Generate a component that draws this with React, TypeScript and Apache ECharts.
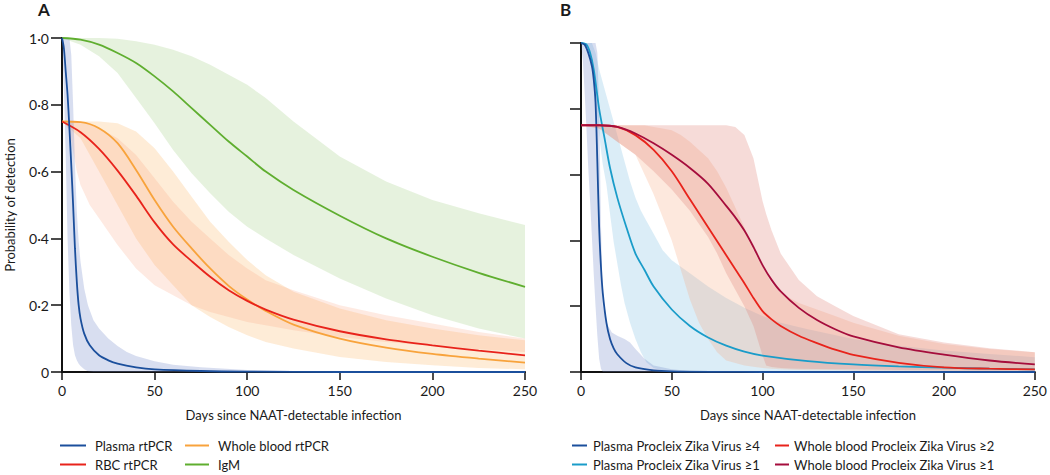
import React, { useEffect, useRef } from "react";
import * as echarts from "echarts";

// ---------- Panel A data ----------
const xTicks = [0, 50, 100, 150, 200, 250];

const plasmaRtDays = [0, 1, 2, 3, 4, 5, 6, 7, 8, 9, 10, 12, 15, 20, 25, 30, 40, 50, 75, 100, 150, 250];
const plasmaRt = [1, 0.97, 0.9, 0.83, 0.73, 0.62, 0.5, 0.37, 0.27, 0.2, 0.16, 0.115, 0.08, 0.05, 0.035, 0.025, 0.014, 0.008, 0.003, 0.001, 0, 0];
const plasmaRtBandDays = [0, 1, 2, 3, 4, 5, 6, 7, 8, 9, 10, 12, 14, 17, 20, 25, 30, 35, 40, 50, 60, 75, 100, 125, 150, 200, 250];
const plasmaRtUpper = [1, 1, 1, 1, 1, 0.95, 0.8, 0.62, 0.48, 0.39, 0.33, 0.25, 0.2, 0.155, 0.13, 0.1, 0.078, 0.06, 0.048, 0.032, 0.022, 0.014, 0.006, 0.003, 0.001, 0, 0];
const plasmaRtLower = [1, 0.85, 0.65, 0.4, 0.24, 0.14, 0.08, 0.05, 0.035, 0.025, 0.018, 0.008, 0.002, 0, 0, 0, 0, 0, 0, 0, 0, 0, 0, 0, 0, 0, 0];

const igmDays = [0, 10, 20, 30, 40, 50, 60, 70, 80, 90, 100, 110, 125, 150, 175, 200, 225, 250];
const igm = [1, 0.995, 0.98, 0.955, 0.925, 0.885, 0.84, 0.79, 0.74, 0.69, 0.645, 0.6, 0.545, 0.468, 0.4, 0.345, 0.297, 0.255];
const igmUpper = [1, 1, 1, 0.998, 0.99, 0.98, 0.965, 0.945, 0.92, 0.89, 0.86, 0.82, 0.75, 0.645, 0.57, 0.515, 0.475, 0.44];
const igmLower = [1, 0.98, 0.945, 0.895, 0.82, 0.745, 0.665, 0.595, 0.535, 0.48, 0.435, 0.4, 0.35, 0.28, 0.22, 0.17, 0.13, 0.1];

const wholeBloodDays = [0, 10, 20, 30, 40, 50, 60, 70, 80, 90, 100, 110, 125, 150, 175, 200, 225, 250];
const wholeBlood = [0.75, 0.748, 0.73, 0.685, 0.605, 0.515, 0.435, 0.37, 0.31, 0.258, 0.217, 0.183, 0.142, 0.1, 0.073, 0.054, 0.04, 0.028];
const wholeBloodUpper = [0.75, 0.75, 0.75, 0.745, 0.72, 0.67, 0.6, 0.525, 0.45, 0.39, 0.335, 0.29, 0.24, 0.19, 0.155, 0.13, 0.11, 0.095];
const wholeBloodLower = [0.75, 0.7, 0.6, 0.5, 0.4, 0.32, 0.26, 0.2, 0.165, 0.135, 0.11, 0.09, 0.07, 0.045, 0.03, 0.02, 0.012, 0.008];

const rbcDays = [0, 10, 20, 30, 40, 50, 60, 70, 80, 90, 100, 110, 125, 150, 175, 200, 225, 250];
const rbc = [0.75, 0.718, 0.668, 0.603, 0.528, 0.448, 0.382, 0.332, 0.285, 0.245, 0.213, 0.187, 0.157, 0.122, 0.098, 0.08, 0.064, 0.05];
const rbcBandDays = [0, 2, 4, 6, 8, 10, 15, 20, 30, 40, 50, 60, 70, 80, 90, 100, 110, 125, 150, 175, 200, 225, 250];
const rbcUpper = [0.75, 0.75, 0.75, 0.75, 0.75, 0.745, 0.74, 0.73, 0.7, 0.65, 0.58, 0.51, 0.45, 0.4, 0.35, 0.31, 0.275, 0.245, 0.2, 0.17, 0.145, 0.12, 0.1];
const rbcLower = [0.75, 0.74, 0.72, 0.66, 0.6, 0.56, 0.5, 0.46, 0.38, 0.31, 0.26, 0.23, 0.2, 0.18, 0.165, 0.15, 0.14, 0.125, 0.105, 0.09, 0.078, 0.068, 0.06];

// ---------- Panel B data ----------
const zika4Days = [0, 2, 4, 6, 7, 8, 9, 10, 11, 12, 14, 16, 18, 20, 25, 30, 40, 50, 75, 100, 250];
const zika4 = [1, 0.995, 0.97, 0.93, 0.89, 0.82, 0.64, 0.44, 0.32, 0.24, 0.15, 0.1, 0.072, 0.054, 0.027, 0.014, 0.005, 0.002, 0.0005, 0, 0];
const zika4BandDays = [0, 1, 2, 3, 4, 5, 6, 7, 8, 9, 10, 11, 12, 14, 17, 20, 24, 27, 30, 35, 40, 50, 60, 80, 100, 250];
const zika4Upper = [1, 1, 1, 1, 1, 1, 1, 1, 1, 0.97, 0.8, 0.45, 0.2, 0.15, 0.12, 0.11, 0.1, 0.09, 0.07, 0.04, 0.02, 0.008, 0.003, 0, 0, 0];
const zika4Lower = [1, 0.95, 0.85, 0.74, 0.62, 0.52, 0.41, 0.3, 0.2, 0.11, 0.04, 0.01, 0, 0, 0, 0, 0, 0, 0, 0, 0, 0, 0, 0, 0, 0];

const zika1Days = [0, 3, 5, 7, 10, 13, 16, 20, 25, 30, 35, 40, 50, 60, 70, 80, 90, 100, 125, 150, 175, 200, 225, 250];
const zika1 = [1, 0.995, 0.97, 0.92, 0.8, 0.71, 0.62, 0.53, 0.44, 0.36, 0.31, 0.26, 0.19, 0.14, 0.105, 0.08, 0.062, 0.05, 0.033, 0.023, 0.017, 0.013, 0.01, 0.008];
const zika1BandDays = [0, 4, 6, 8, 10, 12, 14, 16, 18, 20, 22, 24, 27, 30, 33, 36, 40, 45, 50, 60, 70, 80, 90, 100, 110, 125, 150, 175, 200, 225, 250];
const zika1Upper = [1, 1, 1, 0.97, 0.92, 0.88, 0.84, 0.8, 0.76, 0.72, 0.68, 0.64, 0.58, 0.53, 0.49, 0.46, 0.42, 0.37, 0.34, 0.3, 0.26, 0.225, 0.195, 0.17, 0.15, 0.13, 0.1, 0.08, 0.065, 0.055, 0.045];
const zika1Lower = [1, 0.99, 0.93, 0.82, 0.72, 0.63, 0.57, 0.48, 0.395, 0.33, 0.265, 0.21, 0.15, 0.1, 0.06, 0.03, 0.012, 0.005, 0.003, 0.002, 0.001, 0.001, 0, 0, 0, 0, 0, 0, 0, 0, 0];

const wbZikaDays = [0, 10, 20, 30, 40, 50, 60, 70, 80, 85, 90, 95, 100, 105, 110, 120, 130, 140, 150, 175, 200, 225, 250];
const wbZika2 = [0.75, 0.75, 0.745, 0.72, 0.675, 0.61, 0.525, 0.44, 0.355, 0.312, 0.27, 0.225, 0.185, 0.16, 0.14, 0.11, 0.088, 0.068, 0.052, 0.028, 0.014, 0.01, 0.008];
const wbZika1 = [0.75, 0.75, 0.745, 0.725, 0.695, 0.66, 0.62, 0.572, 0.505, 0.47, 0.43, 0.38, 0.325, 0.28, 0.245, 0.195, 0.158, 0.13, 0.108, 0.075, 0.053, 0.035, 0.023];

const wb1BandDays = [0, 10, 20, 30, 40, 50, 60, 65, 70, 75, 80, 85, 90, 95, 100, 102, 105, 110, 115, 120, 130, 140, 150, 175, 200, 225, 250];
const wb1Upper = [0.75, 0.75, 0.75, 0.75, 0.75, 0.75, 0.75, 0.75, 0.75, 0.75, 0.75, 0.745, 0.72, 0.65, 0.52, 0.48, 0.43, 0.36, 0.32, 0.28, 0.23, 0.2, 0.17, 0.115, 0.09, 0.072, 0.06];
const wb1Lower = [0.75, 0.74, 0.7, 0.66, 0.61, 0.555, 0.49, 0.45, 0.41, 0.36, 0.3, 0.25, 0.2, 0.14, 0.05, 0.02, 0.015, 0.012, 0.011, 0.01, 0.009, 0.008, 0.008, 0.006, 0.005, 0.004, 0.004];

const wb2BandDays = [0, 10, 20, 30, 35, 40, 45, 50, 55, 60, 65, 70, 75, 80, 90, 95, 100, 105, 110, 120, 130, 140, 150, 175, 200, 225, 250];
const wb2Upper = [0.75, 0.75, 0.75, 0.75, 0.75, 0.745, 0.74, 0.735, 0.72, 0.7, 0.675, 0.65, 0.61, 0.56, 0.44, 0.37, 0.32, 0.27, 0.24, 0.21, 0.19, 0.17, 0.15, 0.11, 0.085, 0.07, 0.06];
const wb2Lower = [0.75, 0.74, 0.7, 0.66, 0.6, 0.54, 0.47, 0.4, 0.31, 0.22, 0.15, 0.1, 0.06, 0.035, 0.02, 0.016, 0.012, 0.01, 0.008, 0.006, 0.005, 0.005, 0.004, 0.003, 0.002, 0.001, 0.001];

// ---------- styling ----------
const FONT = "Lato";
const INK = "#1a1a1a";

const C = {
  darkBlue: "#1b4f9c",
  cyan: "#1a9cc9",
  red: "#e8231b",
  crimson: "#a50d3c",
  orange: "#f8a33c",
  green: "#5fae2f",
};
const BAND = {
  lavender: "rgba(115,135,202,0.28)",
  lightBlue: "rgba(125,192,228,0.28)",
  green: "rgba(172,212,145,0.30)",
  orange: "rgba(250,180,100,0.26)",
  salmon: "rgba(249,160,125,0.22)",
  pink: "rgba(222,125,115,0.28)",
  peach: "rgba(249,165,125,0.26)",
};

function band(name: string, idx: number, days: number[], lo: number[], hi: number[], fill: string) {
  return {
    type: "custom",
    name,
    xAxisIndex: idx,
    yAxisIndex: idx,
    silent: true,
    z: 1,
    data: days.map((d, i) => [d, lo[i], hi[i]]),
    encode: { x: 0, y: [1, 2] },
    renderItem: (params: any, api: any) => {
      if (params.dataIndex !== 0) return null;
      const top = days.map((d, i) => api.coord([d, hi[i]]));
      const bot = days.map((d, i) => api.coord([d, lo[i]])).reverse();
      return {
        type: "polygon",
        shape: { points: top.concat(bot) },
        style: { fill, stroke: null },
      };
    },
  };
}

function line(name: string, idx: number, days: number[], vals: number[], color: string) {
  return {
    type: "line",
    name,
    xAxisIndex: idx,
    yAxisIndex: idx,
    z: 3,
    showSymbol: false,
    symbol: "none",
    smooth: 0.3,
    data: days.map((d, i) => [d, vals[i]]),
    itemStyle: { color },
    lineStyle: { color, width: 1.8 },
  };
}

const axisLine = { show: true, lineStyle: { color: "#111", width: 2 } };

function xAxis(idx: number) {
  return {
    type: "value",
    gridIndex: idx,
    min: xTicks[0],
    max: xTicks[xTicks.length - 1],
    interval: 50,
    name: "Days since NAAT-detectable infection",
    nameLocation: "middle",
    nameGap: 36,
    nameTextStyle: { fontFamily: FONT, fontSize: 13, color: INK },
    axisLine,
    axisTick: { show: true, length: 8, lineStyle: { color: "#111", width: 1.5 } },
    axisLabel: { fontFamily: FONT, fontSize: 14, color: INK, margin: 11 },
    splitLine: { show: false },
  };
}

function yAxis(idx: number, labels: boolean) {
  return {
    type: "value",
    gridIndex: idx,
    min: 0,
    max: 1,
    interval: 0.2,
    name: labels ? "Probability of detection" : "",
    nameLocation: "middle",
    nameGap: 46,
    nameTextStyle: { fontFamily: FONT, fontSize: 13, color: INK },
    axisLine,
    axisTick: { show: true, length: 11, lineStyle: { color: "#111", width: 1.5 } },
    axisLabel: {
      show: labels,
      fontFamily: FONT,
      fontSize: 14,
      color: INK,
      margin: 13,
      formatter: (v: number) => (v === 0 ? "0" : v.toFixed(1).replace(".", "\u00b7")),
    },
    splitLine: { show: false },
  };
}

function legend(left: number, names: string[], w: number, pad: number) {
  return {
    left,
    top: 439,
    orient: "vertical",
    padding: 0,
    itemGap: 6,
    itemWidth: w,
    itemHeight: 2,
    icon: "rect",
    selectedMode: false,
    data: names,
    textStyle: { fontFamily: FONT, fontSize: 13, color: INK, padding: [0, 0, 0, pad] },
  };
}

const option = {
  animation: false,
  textStyle: { fontFamily: FONT },
  grid: [
    { left: 62, top: 38, width: 463, height: 334 },
    { left: 581, top: 43, width: 456, height: 329 },
  ],
  xAxis: [xAxis(0), xAxis(1)],
  yAxis: [yAxis(0, true), yAxis(1, false)],
  legend: [
    legend(60, ["Plasma rtPCR", "RBC rtPCR"], 26, 4),
    legend(185, ["Whole blood rtPCR", "IgM"], 24, 4),
    legend(572, ["Plasma Procleix Zika Virus \u22654", "Plasma Procleix Zika Virus \u22651"], 15, 1),
    legend(775, ["Whole blood Procleix Zika Virus \u22652", "Whole blood Procleix Zika Virus \u22651"], 14, 0),
  ],
  graphic: [
    { type: "text", left: 38, top: 1, style: { text: "A", font: `bold 17px ${FONT}`, fill: INK } },
    { type: "text", left: 560, top: 1, style: { text: "B", font: `bold 17px ${FONT}`, fill: INK } },
  ],
  series: [
    band("igmBand", 0, igmDays, igmLower, igmUpper, BAND.green),
    band("wbBand", 0, wholeBloodDays, wholeBloodLower, wholeBloodUpper, BAND.orange),
    band("rbcBand", 0, rbcBandDays, rbcLower, rbcUpper, BAND.salmon),
    band("plasmaBand", 0, plasmaRtBandDays, plasmaRtLower, plasmaRtUpper, BAND.lavender),
    line("IgM", 0, igmDays, igm, C.green),
    line("Whole blood rtPCR", 0, wholeBloodDays, wholeBlood, C.orange),
    line("RBC rtPCR", 0, rbcDays, rbc, C.red),
    line("Plasma rtPCR", 0, plasmaRtDays, plasmaRt, C.darkBlue),

    band("zika1Band", 1, zika1BandDays, zika1Lower, zika1Upper, BAND.lightBlue),
    band("zika4Band", 1, zika4BandDays, zika4Lower, zika4Upper, BAND.lavender),
    band("wb2Band", 1, wb2BandDays, wb2Lower, wb2Upper, BAND.peach),
    band("wb1Band", 1, wb1BandDays, wb1Lower, wb1Upper, BAND.pink),
    line("Plasma Procleix Zika Virus \u22651", 1, zika1Days, zika1, C.cyan),
    line("Plasma Procleix Zika Virus \u22654", 1, zika4Days, zika4, C.darkBlue),
    line("Whole blood Procleix Zika Virus \u22652", 1, wbZikaDays, wbZika2, C.red),
    line("Whole blood Procleix Zika Virus \u22651", 1, wbZikaDays, wbZika1, C.crimson),
  ],
};

export default function App() {
  const ref = useRef<HTMLDivElement>(null);
  useEffect(() => {
    if (!ref.current) return;
    const chart = echarts.init(ref.current, null, { renderer: "svg" });
    chart.setOption(option as any);
    return () => chart.dispose();
  }, []);
  return (
    <div
      ref={ref}
      style={{ position: "absolute", left: 0, top: 0, width: 1050, height: 475, background: "#fff" }}
    />
  );
}
